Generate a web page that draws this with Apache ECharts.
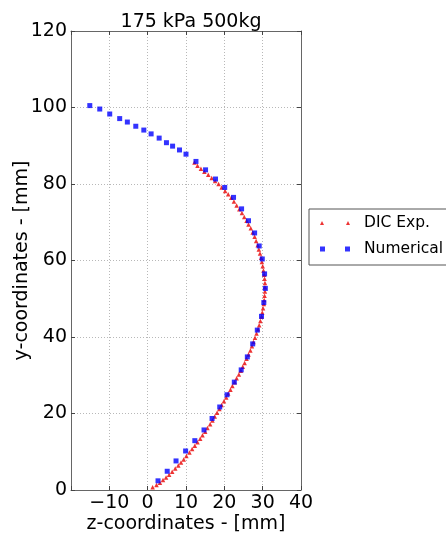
<!DOCTYPE html>
<html>
<head>
<meta charset="utf-8">
<script src="https://cdn.jsdelivr.net/npm/echarts@6/dist/echarts.min.js"></script>
<style>
html,body{margin:0;padding:0;background:#fff;}
#chart{width:446px;height:535px;}
</style>
</head>
<body>
<div id="chart"></div>
<script>
// ---- data (z in mm, y in mm) ----
const titleText = '175 kPa 500kg';
const seriesNames = ['DIC Exp.', 'Numerical'];
const xTicks = [-20, -10, 0, 10, 20, 30, 40];
const yTicks = [0, 20, 40, 60, 80, 100, 120];

const dicZ = [1.3,2.3,3.2,4.0,4.8,5.6,6.4,7.2,8.0,8.7,9.4,10.1,10.9,11.6,12.3,13.0,13.7,14.3,15.0,15.6,
  16.3,16.9,17.5,18.1,18.7,19.3,19.9,20.5,21.0,21.6,22.1,22.7,23.2,23.8,24.3,24.8,25.3,25.8,26.3,26.8,
  27.2,27.6,28.0,28.4,28.8,29.1,29.4,29.7,29.9,30.1,30.3,30.4,30.5,30.6,30.6,30.6,30.5,30.4,30.2,30.0,
  29.8,29.6,29.3,29.0,28.7,28.3,27.9,27.4,26.9,26.3,25.8,25.2,24.6,23.9,23.2,22.5,21.8,21.0,20.2,19.3,
  18.5,17.6,16.7,15.8,14.8,13.9,13.0,12.2];
const dicY = [0.7,1.3,1.9,2.6,3.3,4.0,4.8,5.6,6.4,7.2,8.0,8.9,9.8,10.7,11.6,12.5,13.4,14.3,15.2,16.2,
  17.2,18.2,19.2,20.2,21.2,22.2,23.2,24.2,25.2,26.2,27.2,28.2,29.2,30.2,31.2,32.2,33.2,34.3,35.4,36.5,
  37.6,38.7,39.8,40.9,42.0,43.1,44.2,45.3,46.4,47.5,48.6,49.7,50.8,51.9,53.0,54.1,55.2,56.3,57.4,58.5,
  59.6,60.7,61.8,62.9,64.0,65.1,66.2,67.3,68.4,69.4,70.4,71.4,72.4,73.4,74.4,75.4,76.4,77.3,78.2,79.1,
  80.0,80.8,81.6,82.4,83.2,84.0,84.8,85.6,86.3];

const numZ = [-15.1,-12.5,-9.9,-7.3,-5.3,-3.1,-1.0,0.9,3.0,4.9,6.5,8.3,10.0,12.6,15.1,17.7,20.1,22.4,24.5,26.3,
  27.9,29.1,29.9,30.5,30.7,30.3,29.7,28.6,27.4,26.0,24.4,22.6,20.7,18.8,16.8,14.7,12.3,9.9,7.4,5.1,2.7];
const numY = [100.5,99.6,98.3,97.1,96.2,95.1,94.1,93.1,92.0,90.8,89.9,88.9,87.8,85.9,83.7,81.3,79.1,76.5,73.5,70.4,
  67.2,63.8,60.4,56.5,52.7,49.0,45.4,41.8,38.2,34.8,31.4,28.2,24.9,21.7,18.7,15.7,12.9,10.2,7.6,4.9,2.4];

const zip = (a, b) => a.map((v, i) => [v, b[i]]);
const FONT = 'DejaVu Sans';

const fmtX = v => (v === xTicks[0]) ? '' : (v < 0 ? '\u2212' + Math.abs(v) : String(v));

const chart = echarts.init(document.getElementById('chart'), null, {renderer: 'canvas'});
const xMin = xTicks[0], xMax = xTicks[xTicks.length - 1];
const yMin = yTicks[0], yMax = yTicks[yTicks.length - 1];
const xInt = xTicks[1] - xTicks[0], yInt = yTicks[1] - yTicks[0];

const frameLine = {show: true, onZero: false, lineStyle: {color: '#666', width: 1}};
const tick = {show: true, inside: true, length: 4, lineStyle: {color: '#444'}};

chart.setOption({
  animation: false,
  backgroundColor: '#ffffff',
  title: {
    text: titleText, left: 186, top: 8, textAlign: 'center',
    textStyle: {fontFamily: FONT, fontSize: 19, fontWeight: 'normal', color: '#000'}
  },
  legend: {
    orient: 'vertical', left: 309, top: 209,
    padding: [4, 8, 6, 11], itemGap: 6,
    itemWidth: 30, itemHeight: 5,
    borderColor: '#555', borderWidth: 1, borderRadius: 0,
    backgroundColor: '#fff',
    textStyle: {fontFamily: FONT, fontSize: 15.5, color: '#000', lineHeight: 20, padding: [0, 0, 0, 9]},
    data: [
      {name: seriesNames[0], icon: 'path://M0,4L2,0L4,4Z M26,4L28,0L30,4Z'},
      {name: seriesNames[1], icon: 'path://M0,0h5v5h-5Z M25,0h5v5h-5Z'}
    ]
  },
  grid: {left: 71, top: 31, width: 230, height: 459, containLabel: false, outerBoundsMode: 'none'},
  xAxis: [{
    type: 'value', min: xMin, max: xMax, interval: xInt,
    name: 'z-coordinates - [mm]', nameLocation: 'middle', nameGap: 25, nameMoveOverlap: false,
    nameTextStyle: {fontFamily: FONT, fontSize: 19, color: '#000'},
    axisLine: frameLine, axisTick: tick,
    axisLabel: {fontFamily: FONT, fontSize: 19, color: '#000', margin: 4, formatter: fmtX},
    splitLine: {show: true, lineStyle: {color: '#b8b8b8', type: [1, 2], width: 1}}
  }, {
    type: 'value', position: 'top', min: xMin, max: xMax, interval: xInt,
    axisLine: frameLine, axisTick: tick,
    axisLabel: {show: false}, splitLine: {show: false}
  }],
  yAxis: [{
    type: 'value', min: yMin, max: yMax, interval: yInt,
    name: 'y-coordinates - [mm]', nameLocation: 'middle', nameGap: 39, nameRotate: 90, nameMoveOverlap: false,
    nameTextStyle: {fontFamily: FONT, fontSize: 19, color: '#000'},
    axisLine: frameLine, axisTick: tick,
    axisLabel: {fontFamily: FONT, fontSize: 19, color: '#000', margin: 4},
    splitLine: {show: true, lineStyle: {color: '#b8b8b8', type: [1, 2], width: 1}}
  }, {
    type: 'value', position: 'right', min: yMin, max: yMax, interval: yInt,
    axisLine: frameLine, axisTick: tick,
    axisLabel: {show: false}, splitLine: {show: false}
  }],
  series: [{
    name: seriesNames[0], type: 'scatter', xAxisIndex: 0, yAxisIndex: 0,
    symbol: 'triangle', symbolSize: [4.5, 4.5],
    itemStyle: {color: '#e80000'},
    data: zip(dicZ, dicY)
  }, {
    name: seriesNames[1], type: 'scatter', xAxisIndex: 0, yAxisIndex: 0,
    symbol: 'rect', symbolSize: 5,
    itemStyle: {color: '#0000ff'},
    data: zip(numZ, numY)
  }]
});
</script>
</body>
</html>
